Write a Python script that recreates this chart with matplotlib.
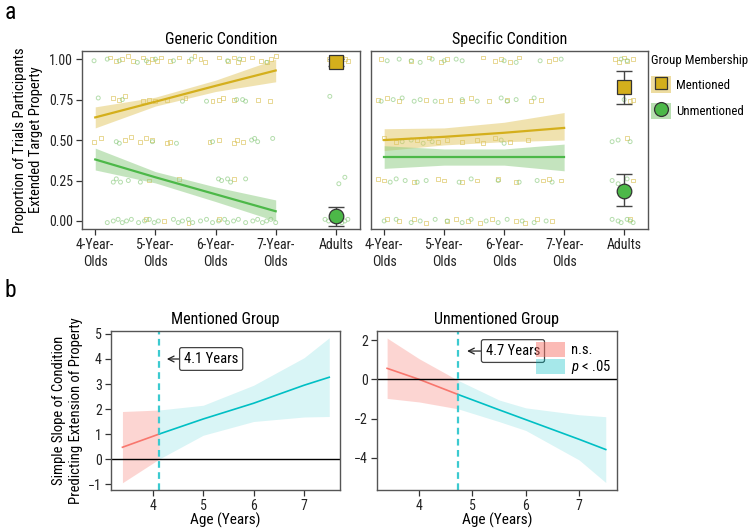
import numpy as np
import matplotlib
matplotlib.use("Agg")
import matplotlib.pyplot as plt
from matplotlib import font_manager
from matplotlib.patches import Patch
from matplotlib.lines import Line2D

names = {f.name for f in font_manager.fontManager.ttflist}
base = "DejaVu Sans"
for cand in ["Liberation Sans Narrow", "Roboto Condensed", "Open Sans Condensed", "Noto Sans Condensed"]:
    if cand in names:
        base = cand
        break
cond = [f for f in font_manager.fontManager.ttflist
        if f.name == "DejaVu Sans" and f.stretch == "condensed"]
if base == "DejaVu Sans" and cond:
    plt.rcParams["font.stretch"] = "condensed"
plt.rcParams["font.family"] = [base, "DejaVu Sans"]
plt.rcParams["mathtext.fontset"] = "custom"
plt.rcParams["mathtext.it"] = base + ":italic"
plt.rcParams["mathtext.rm"] = base

# ---------------- panel a data ----------------
age_ticks = [4, 5, 6, 7, 8]
age_labels = ["4-Year-\nOlds", "5-Year-\nOlds", "6-Year-\nOlds", "7-Year-\nOlds", "Adults"]
rib_x = [4, 5, 6, 7]

gen_men_line = [0.64, 0.737, 0.835, 0.93]
gen_men_lo = [0.575, 0.71, 0.80, 0.86]
gen_men_hi = [0.705, 0.765, 0.87, 1.0]
gen_unm_line = [0.38, 0.27, 0.165, 0.06]
gen_unm_lo = [0.315, 0.235, 0.12, 0.0]
gen_unm_hi = [0.45, 0.305, 0.21, 0.13]

spe_men_line = [0.50, 0.52, 0.545, 0.575]
spe_men_lo = [0.435, 0.47, 0.49, 0.50]
spe_men_hi = [0.57, 0.575, 0.61, 0.67]
spe_unm_line = [0.395, 0.395, 0.395, 0.395]
spe_unm_lo = [0.325, 0.345, 0.345, 0.31]
spe_unm_hi = [0.465, 0.445, 0.445, 0.475]

# adult means and error bars: (mean, low, high)
gen_adult_men = (0.985, 0.96, 1.0)
gen_adult_unm = (0.03, -0.03, 0.088)
spe_adult_men = (0.825, 0.725, 0.925)
spe_adult_unm = (0.187, 0.09, 0.29)

# raw participant points (x, y)
gen_men_pts = [
    (4.25, 1.01), (4.35, 0.99), (4.45, 1.0), (4.55, 1.02), (4.62, 0.99), (4.8, 1.01), (4.88, 0.98),
    (4.95, 1.0), (5.02, 0.99), (5.1, 1.01), (5.25, 0.99), (5.4, 1.01), (5.55, 0.99), (5.65, 1.02),
    (5.75, 1.0), (5.82, 0.98), (6.05, 1.01), (6.2, 0.99), (6.3, 1.01), (6.38, 0.98), (6.45, 1.0),
    (6.6, 1.01), (6.75, 0.99), (6.85, 0.98), (6.92, 1.0), (7.0, 1.02),
    (4.3, 0.76), (4.4, 0.75), (4.5, 0.77), (4.8, 0.74), (4.9, 0.75), (5.0, 0.74), (5.2, 0.75),
    (5.5, 0.76), (5.95, 0.74), (6.05, 0.75), (6.12, 0.76), (6.3, 0.75), (6.7, 0.75), (6.9, 0.74),
    (3.98, 0.49), (4.1, 0.51), (4.5, 0.50), (4.6, 0.52), (4.75, 0.49), (4.85, 0.51), (4.95, 0.5),
    (5.2, 0.48), (5.25, 0.49), (5.9, 0.49), (6.05, 0.5), (6.3, 0.48), (6.35, 0.5), (6.45, 0.49),
    (4.9, 0.25), (5.4, 0.26), (6.3, 0.26),
    (4.85, 0.01), (5.15, 0.0), (5.55, -0.01), (6.05, 0.01),
    (7.88, 1.0), (7.93, 1.01), (7.98, 0.98), (8.05, 0.99), (8.1, 1.01), (8.15, 1.0), (8.2, 0.99),
]
gen_unm_pts = [
    (3.98, 0.99), (4.2, 1.0), (4.4, 0.99), (4.7, 0.98), (4.85, 0.99), (5.0, 1.0), (5.3, 0.99),
    (5.6, 1.0), (6.2, 0.99), (6.4, 1.0), (6.85, 0.98),
    (4.05, 0.76), (4.45, 0.75), (5.45, 0.74), (5.85, 0.74), (6.35, 0.75), (6.45, 0.75), (6.5, 0.74),
    (4.35, 0.49), (4.4, 0.48), (4.95, 0.49), (5.35, 0.48), (5.95, 0.49), (6.6, 0.5), (6.65, 0.51),
    (6.7, 0.49), (6.95, 0.51),
    (4.3, 0.24), (4.35, 0.26), (4.42, 0.24), (4.55, 0.25), (4.75, 0.24), (6.05, 0.26), (6.1, 0.25),
    (6.2, 0.26), (6.25, 0.24), (6.5, 0.26),
    (4.2, -0.01), (4.3, 0.0), (4.38, 0.01), (4.45, -0.01), (4.52, 0.0), (4.6, 0.01), (4.72, -0.01),
    (4.82, 0.0), (4.9, 0.01), (4.98, -0.01), (5.05, 0.0), (5.3, 0.01), (5.38, -0.01), (5.45, 0.0),
    (5.55, 0.01), (5.62, -0.01), (5.75, 0.0), (5.85, 0.01), (5.95, -0.01), (6.05, 0.0), (6.15, 0.01),
    (6.2, -0.01), (6.3, 0.0), (6.38, 0.01), (6.5, -0.01), (6.62, 0.0), (6.7, 0.01), (6.78, -0.01),
    (6.85, 0.0), (6.92, 0.01), (7.0, -0.01),
    (7.9, 0.77), (8.05, 0.23), (8.15, 0.27), (7.82, 0.01), (7.88, 0.0), (7.95, 0.02), (8.1, -0.01),
    (8.15, 0.0), (8.2, 0.01),
]
spe_men_pts = [
    (3.95, 1.0), (4.45, 0.99), (4.75, 1.01), (4.95, 0.98), (5.05, 1.0), (5.65, 1.01), (5.85, 0.99),
    (5.95, 1.0), (6.1, 0.98), (6.25, 1.01), (6.75, 0.99), (6.85, 1.0),
    (3.9, 0.75), (4.05, 0.76), (4.25, 0.74), (4.7, 0.75), (4.95, 0.74), (5.1, 0.75), (5.3, 0.74),
    (5.45, 0.76), (5.75, 0.74), (6.05, 0.75), (6.45, 0.74), (6.62, 0.75),
    (4.0, 0.51), (4.2, 0.49), (4.55, 0.5), (4.75, 0.51), (4.9, 0.49), (5.05, 0.5), (5.3, 0.49),
    (5.55, 0.5), (5.65, 0.48), (5.85, 0.51), (6.1, 0.49), (6.4, 0.5),
    (3.9, 0.26), (4.0, 0.25), (4.5, 0.24), (4.9, 0.26), (5.0, 0.25), (5.3, 0.24), (5.55, 0.25),
    (5.9, 0.26), (6.2, 0.24), (6.65, 0.25), (6.75, 0.26), (6.95, 0.25),
    (4.05, 0.01), (4.25, 0.0), (4.5, 0.01), (4.7, -0.01), (5.05, 0.0), (5.2, 0.01), (5.4, 0.0),
    (5.6, -0.01), (5.8, 0.01), (6.2, 0.0), (6.35, -0.01), (6.55, 0.01), (6.8, 0.0),
    (7.85, 1.0), (7.92, 0.98), (8.0, 1.01), (8.05, 0.99), (8.15, 1.0),
    (8.1, 0.74), (8.15, 0.75), (8.05, 0.51), (8.15, 0.25), (8.1, 0.01),
]
spe_unm_pts = [
    (4.05, 0.99), (4.25, 1.0), (4.45, 0.99), (4.6, 0.98), (4.8, 1.0), (5.0, 0.99), (5.2, 1.0),
    (5.3, 0.99), (6.0, 0.99), (6.2, 0.98), (6.6, 0.99), (6.95, 1.0),
    (3.95, 0.74), (4.15, 0.75), (4.3, 0.76), (4.5, 0.74), (4.6, 0.75), (4.85, 0.74), (5.3, 0.75),
    (5.55, 0.74), (5.95, 0.76), (6.05, 0.74), (6.2, 0.75), (6.5, 0.76),
    (4.3, 0.49), (4.45, 0.5), (4.65, 0.48), (4.8, 0.49), (5.95, 0.5), (6.0, 0.48),
    (4.1, 0.24), (4.2, 0.26), (4.35, 0.25), (4.55, 0.24), (4.7, 0.25), (5.25, 0.24), (5.45, 0.26),
    (5.9, 0.25), (6.25, 0.24), (6.55, 0.25), (6.8, 0.24),
    (4.0, 0.0), (4.2, 0.01), (4.45, -0.01), (4.6, 0.0), (4.85, 0.01), (5.05, 0.0), (5.3, -0.01),
    (5.45, 0.01), (5.7, 0.0), (5.9, -0.01), (6.05, 0.01), (6.3, 0.0), (6.5, -0.01), (6.7, 0.0),
    (7.95, 1.0), (8.05, 0.99), (8.0, 0.75), (7.8, 0.49), (7.9, 0.5), (8.1, 0.49),
    (7.8, 0.25), (7.9, 0.23), (8.05, 0.26),
    (7.8, 0.01), (7.9, 0.0), (7.95, -0.01), (8.05, 0.01), (8.1, 0.0), (8.15, -0.01),
]

# ---------------- panel b data ----------------
men_cut = 4.13
men_ns_x = [3.4, 4.13]
men_ns_line = [0.47, 1.0]
men_ns_lo = [-0.95, 0.0]
men_ns_hi = [1.9, 1.96]
men_sig_x = [4.13, 5.0, 6.0, 7.0, 7.5]
men_sig_line = [1.0, 1.6, 2.23, 2.95, 3.27]
men_sig_lo = [0.0, 0.95, 1.5, 1.68, 1.7]
men_sig_hi = [1.96, 2.15, 2.95, 4.05, 4.85]

unm_cut = 4.73
unm_ns_x = [3.4, 4.0, 4.73]
unm_ns_line = [0.56, 0.0, -0.77]
unm_ns_lo = [-0.97, -1.15, -1.5]
unm_ns_hi = [2.1, 1.05, -0.05]
unm_sig_x = [4.73, 5.5, 6.0, 7.0, 7.5]
unm_sig_line = [-0.77, -1.55, -2.05, -3.05, -3.57]
unm_sig_lo = [-1.5, -2.15, -2.6, -4.1, -5.25]
unm_sig_hi = [-0.05, -1.05, -1.45, -1.8, -1.9]

GOLD, GOLD_RIB, GOLD_PT = "#D4AF1C", "#E2C661", "#DCC35A"
GREEN, GREEN_RIB, GREEN_PT = "#4CB848", "#8ACB7E", "#8CCB80"
SALMON, CYAN = "#F8766D", "#00BFC4"
SPINE = "#555555"
FS = 10.5


def style_axes(ax):
    for s in ax.spines.values():
        s.set_color(SPINE)
        s.set_linewidth(1.0)
    ax.tick_params(colors="#333333", labelcolor="#222222", labelsize=10, length=4, width=0.9, pad=2.5)


def draw_a(ax, men_pts, unm_pts, men, unm, a_men, a_unm, title):
    for pts, mk, col in ((men_pts, "s", GOLD_PT), (unm_pts, "o", GREEN_PT)):
        xs = [p[0] for p in pts]
        ys = [p[1] for p in pts]
        ax.scatter(xs, ys, marker=mk, s=8, facecolors="none", edgecolors=col,
                   linewidths=0.7, alpha=0.65, zorder=2)
    for (ln, lo, hi), rib, col in ((men, GOLD_RIB, GOLD), (unm, GREEN_RIB, GREEN)):
        ax.fill_between(rib_x, lo, hi, color=rib, alpha=0.5, linewidth=0, zorder=3)
        ax.plot(rib_x, ln, color=col, lw=1.6, zorder=4)
    for (m, lo, hi), mk, col, sz in ((a_men, "s", GOLD, 9.5), (a_unm, "o", GREEN, 10.5)):
        ax.errorbar([8], [m], yerr=[[m - lo], [hi - m]], fmt="none", ecolor="#444444",
                    elinewidth=1.0, capsize=6, capthick=1.0, zorder=5)
        ax.plot([8], [m], marker=mk, ms=sz, color=col, mec="#333333", mew=0.9, zorder=6)
    ax.set_xlim(3.78, 8.4)
    ax.set_ylim(-0.05, 1.05)
    ax.set_xticks(age_ticks)
    ax.set_xticklabels(age_labels, linespacing=1.3)
    ax.set_yticks([0, 0.25, 0.5, 0.75, 1.0])
    ax.set_yticklabels(["0.00", "0.25", "0.50", "0.75", "1.00"])
    ax.set_title(title, fontsize=11.5, pad=5)
    style_axes(ax)


def draw_b(ax, ns_x, ns_line, ns_lo, ns_hi, sig_x, sig_line, sig_lo, sig_hi, cut, title):
    ax.fill_between(ns_x, ns_lo, ns_hi, color=SALMON, alpha=0.3, linewidth=0)
    ax.fill_between(sig_x, sig_lo, sig_hi, color=CYAN, alpha=0.15, linewidth=0)
    ax.plot(ns_x, ns_line, color=SALMON, lw=1.2)
    ax.plot(sig_x, sig_line, color=CYAN, lw=1.2)
    ax.axhline(0, color="black", lw=1.0)
    ax.axvline(cut, color="#3CCAD0", lw=1.6, ls=(0, (3, 2)))
    ax.set_title(title, fontsize=11.5, pad=5)
    ax.set_xlabel("Age (Years)", fontsize=FS + 0.5, labelpad=0)
    ax.set_xticks([4, 5, 6, 7])
    style_axes(ax)


fig = plt.figure(figsize=(7.49, 5.29), dpi=100)

ax1 = fig.add_axes([0.1095, 0.567, 0.371, 0.3365])
ax2 = fig.add_axes([0.4953, 0.567, 0.370, 0.3365])
draw_a(ax1, gen_men_pts, gen_unm_pts, (gen_men_line, gen_men_lo, gen_men_hi),
       (gen_unm_line, gen_unm_lo, gen_unm_hi), gen_adult_men, gen_adult_unm, "Generic Condition")
draw_a(ax2, spe_men_pts, spe_unm_pts, (spe_men_line, spe_men_lo, spe_men_hi),
       (spe_unm_line, spe_unm_lo, spe_unm_hi), spe_adult_men, spe_adult_unm, "Specific Condition")
ax2.tick_params(axis="y", left=False, labelleft=False)
ax1.set_ylabel("Proportion of Trials Participants\nExtended Target Property", fontsize=FS, labelpad=4)

leg_handles = [
    (Patch(facecolor=GOLD_RIB, alpha=0.6, edgecolor="none"),
     Line2D([], [], marker="s", ms=9, color=GOLD, mec="#333333", mew=0.9, ls="none")),
    (Patch(facecolor=GREEN_RIB, alpha=0.6, edgecolor="none"),
     Line2D([], [], marker="o", ms=10, color=GREEN, mec="#333333", mew=0.9, ls="none")),
]
leg = ax2.legend(leg_handles, ["Mentioned", "Unmentioned"], title="Group Membership",
                 loc="upper left", bbox_to_anchor=(1.0, 1.0), frameon=False, fontsize=9.3,
                 title_fontsize=9.3, handlelength=1.6, handleheight=1.6, labelspacing=0.75,
                 handletextpad=0.35, borderaxespad=0.1, borderpad=0.1)
leg._legend_box.align = "left"

ax3 = fig.add_axes([0.148, 0.0737, 0.3057, 0.3006])
ax4 = fig.add_axes([0.5033, 0.0737, 0.3204, 0.3006])
draw_b(ax3, men_ns_x, men_ns_line, men_ns_lo, men_ns_hi, men_sig_x, men_sig_line, men_sig_lo,
       men_sig_hi, men_cut, "Mentioned Group")
ax3.set_xlim(3.17, 7.71)
ax3.set_ylim(-1.24, 5.12)
ax3.set_yticks([-1, 0, 1, 2, 3, 4, 5])
ax3.set_yticklabels(["\u22121", "0", "1", "2", "3", "4", "5"])
ax3.set_ylabel("Simple Slope of Condition\nPredicting Extension of Property", fontsize=FS, labelpad=4)
ax3.annotate("4.1 Years", xy=(4.28, 4.0), xytext=(4.62, 4.0), ha="left", va="center", fontsize=FS,
             bbox=dict(boxstyle="round,pad=0.3,rounding_size=0.15", fc="white", ec="#444444", lw=0.9),
             arrowprops=dict(arrowstyle="->", color="#222222", lw=0.9, shrinkA=0, shrinkB=0))

draw_b(ax4, unm_ns_x, unm_ns_line, unm_ns_lo, unm_ns_hi, unm_sig_x, unm_sig_line, unm_sig_lo,
       unm_sig_hi, unm_cut, "Unmentioned Group")
ax4.set_xlim(3.21, 7.71)
ax4.set_ylim(-5.63, 2.46)
ax4.set_yticks([-4, -2, 0, 2])
ax4.set_yticklabels(["\u22124", "\u22122", "0", "2"])
ax4.annotate("4.7 Years", xy=(4.9, 1.44), xytext=(5.25, 1.44), ha="left", va="center", fontsize=FS,
             bbox=dict(boxstyle="round,pad=0.3,rounding_size=0.15", fc="white", ec="#444444", lw=0.9),
             arrowprops=dict(arrowstyle="->", color="#222222", lw=0.9, shrinkA=0, shrinkB=0))
b_handles = [Patch(facecolor=SALMON, alpha=0.5, edgecolor="none"),
             Patch(facecolor=CYAN, alpha=0.35, edgecolor="none")]
ax4.legend(b_handles, ["n.s.", "$p$ < .05"], loc="upper right", bbox_to_anchor=(1.0, 0.97),
           frameon=False, fontsize=FS, handlelength=2.0, handleheight=1.2, labelspacing=0.1,
           handletextpad=0.4, borderaxespad=0.2, borderpad=0.2)

fig.text(0.006, 0.999, "a", fontsize=17, va="top", ha="left")
fig.text(0.006, 0.472, "b", fontsize=17, va="top", ha="left")

fig.savefig("out.png", dpi=100)
